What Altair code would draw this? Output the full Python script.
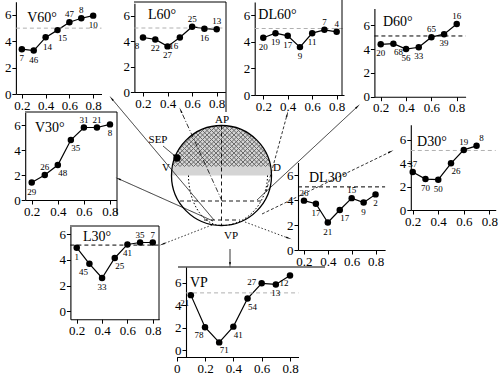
import math
import altair as alt
import pandas as pd

W, H = 500, 378
FONT = "Liberation Serif"

# ---------------- data ----------------
x7 = [0.2, 0.3, 0.4, 0.5, 0.6, 0.7, 0.8]
x_d30 = [0.2, 0.3, 0.4, 0.5, 0.6, 0.7]
x_vp = [0.1, 0.2, 0.3, 0.4, 0.5, 0.6, 0.7, 0.8]

v60_y = [3.4, 3.3, 4.3, 4.85, 5.45, 5.75, 5.95]
v60_n = ["7", "46", "14", "15", "47", "8", "10"]
l60_y = [4.3, 4.15, 3.6, 4.3, 5.15, 5.0, 4.95]
l60_n = ["8", "22", "27", "16", "25", "16", "13"]
dl60_y = [4.3, 4.65, 4.45, 3.6, 4.65, 4.9, 4.75]
dl60_n = ["20", "19", "17", "9", "11", "7", "4"]
d60_y = [4.4, 4.45, 4.0, 4.15, 5.0, 5.25, 6.1]
d60_n = ["20", "68", "56", "33", "65", "39", "16"]
v30_y = [1.4, 2.0, 2.8, 4.8, 5.8, 5.8, 6.05]
v30_n = ["29", "26", "48", "35", "31", "21", "8"]
dl30_y = [3.95, 3.7, 2.2, 3.2, 4.15, 3.8, 4.45]
dl30_n = ["26", "17", "21", "17", "15", "9", "2"]
d30_y = [3.25, 2.65, 2.6, 4.0, 5.15, 5.5]
d30_n = ["37", "70", "50", "26", "19", "8"]
l30_y = [4.95, 3.7, 2.6, 4.15, 5.2, 5.35, 5.35]
l30_n = ["1", "45", "33", "25", "41", "35", "7"]
vp_y = [4.9, 2.05, 0.7, 2.1, 4.6, 5.95, 5.85, 6.65]
vp_n = ["21", "78", "71", "41", "54", "27", "13", "12"]

thresholds = {"V60": 5.0, "L60": 5.05, "DL60": 5.0, "D60": 5.1,
              "DL30": 5.05, "D30": 5.1, "L30": 5.15, "VP": 5.1}

x_ticks = [0.2, 0.4, 0.6, 0.8]
vp_x_ticks = [0, 0.2, 0.4, 0.6, 0.8]
y_ticks = [0, 2, 4, 6]

diagram_labels = ["AP", "SEP", "V", "D", "VP"]

# ---------------- layout (positions / styles) ----------------
panels = [
    dict(name="V60", title="V60°", x=x7, y=v60_y, n=v60_n,
         pos=["b", "b", "bb", "br", "a", "a", "b"], dash="#b0b0b0",
         xd=[0.15, 0.87], xr=[15.9, 101.5], yd=[0, 7], yr=[94, 1.8], tpos=(0.245, 5.77)),
    dict(name="L60", title="L60°", x=x7, y=l60_y, n=l60_n,
         pos=["bl", "b", "b", "bl", "a", "b", "a"], dash="#b0b0b0",
         xd=[0.13, 0.87], xr=[134.4, 225.3], yd=[0, 7], yr=[92, 3.3], tpos=(0.241, 6.08)),
    dict(name="DL60", title="DL60°", x=x7, y=dl60_y, n=dl60_n,
         pos=["b", "b", "b", "b", "b", "a", "a"], dash="#b0b0b0",
         xd=[0.13, 0.86], xr=[254.7, 344.0], yd=[0, 7], yr=[95, 1.9], tpos=(0.16, 6.0)),
    dict(name="D60", title="D60°", x=x7, y=d60_y, n=d60_n,
         pos=["b", "br", "b", "b", "a", "b", "a"], dash="black",
         xd=[0.15, 0.87], xr=[374.4, 465.6], yd=[0, 7.4], yr=[96.7, 8.6], tpos=(0.218, 6.3)),
    dict(name="V30", title="V30°", x=x7, y=v30_y, n=v30_n,
         pos=["b", "a", "br", "br", "a", "a", "b"], dash=None,
         xd=[0.15, 0.85], xr=[25.2, 116.5], yd=[0, 7], yr=[200, 112.5], tpos=(0.225, 5.76)),
    dict(name="DL30", title="DL30°", x=x7, y=dl30_y, n=dl30_n,
         pos=["a", "b", "b", "br", "a", "b", "b"], dash="black",
         xd=[0.15, 0.88], xr=[298.0, 385.1], yd=[0, 7], yr=[250, 162.5], tpos=(0.242, 5.76)),
    dict(name="D30", title="D30°", x=x_d30, y=d30_y, n=d30_n,
         pos=["a", "b", "b", "br", "a", "ar"], dash="#b0b0b0",
         xd=[0.185, 0.85], xr=[410.8, 495.7], yd=[0, 7.3], yr=[210, 124.8], tpos=(0.234, 5.85)),
    dict(name="L30", title="L30°", x=x7, y=l30_y, n=l30_n,
         pos=["b", "bl", "b", "br", "b", "a", "a"], dash="black",
         xd=[0.15, 0.85], xr=[70.4, 159.1], yd=[-0.6, 6.6], yr=[319.2, 226.4], tpos=(0.25, 5.8)),
    dict(name="VP", title="VP", x=x_vp, y=vp_y, n=vp_n,
         pos=["bl", "bl", "br", "br", "br", "l", "b", "bl"], dash="#b0b0b0",
         xd=[0.0, 0.86], xr=[176.7, 298.5], yd=[-0.6, 7.4], yr=[357, 267], tpos=(0.094, 5.97),
         yax=186, xt=vp_x_ticks),
]

OFFS = {"b": (0, 9), "bb": (2, 10), "a": (0, -8), "br": (5, 8), "bl": (-6, 8),
        "l": (-10, -1), "r": (9, 1), "ar": (5, -8)}


def sc(d, r):
    return alt.Scale(domain=d, range=r, nice=False, zero=False)


def axis_common():
    return dict(title=None, grid=False, domainColor="black", domainWidth=1.1,
                tickColor="black", tickSize=4, tickWidth=1, labelColor="black",
                labelFont=FONT, labelFontSize=13, labelPadding=1,
                labelFlush=False, labelOverlap=False)


layers = []

for p in panels:
    xs = sc(p["xd"], p["xr"])
    ys = sc(p["yd"], p["yr"])
    df = pd.DataFrame({"x": p["x"], "y": p["y"], "n": p["n"], "pos": p["pos"]})
    xt = p.get("xt", x_ticks)
    xaxis = alt.Axis(orient="bottom", offset=p["yr"][0] - H, values=xt,
                     labelExpr="datum.value == 0 ? '0' : format(datum.value, '.1f')",
                     **axis_common())
    yaxis = alt.Axis(orient="left", offset=-p.get("yax", p["xr"][0]), values=y_ticks,
                     format="d", **axis_common())
    # line with the panel axes
    layers.append(alt.Chart(df).mark_line(color="black", strokeWidth=1.2).encode(
        x=alt.X("x:Q", scale=xs, axis=xaxis),
        y=alt.Y("y:Q", scale=ys, axis=yaxis)))
    # threshold
    if p["dash"] is not None:
        tdf = pd.DataFrame({"x0": [p["xd"][0] if "yax" not in p else 0.066],
                            "x1": [p["xd"][1]], "t": [thresholds[p["name"]]]})
        layers.append(alt.Chart(tdf).mark_rule(color=p["dash"], strokeDash=[4, 3], strokeWidth=1).encode(
            x=alt.X("x0:Q", scale=xs, axis=None), x2="x1:Q",
            y=alt.Y("t:Q", scale=ys, axis=None)))
    # points
    layers.append(alt.Chart(df).mark_circle(size=42, color="black", opacity=1).encode(
        x=alt.X("x:Q", scale=xs, axis=None), y=alt.Y("y:Q", scale=ys, axis=None)))
    # value labels, one layer per placement
    for code in sorted(set(p["pos"])):
        dx, dy = OFFS[code]
        sub = df[df["pos"] == code]
        layers.append(alt.Chart(sub).mark_text(font=FONT, fontSize=9, color="black",
                                               dx=dx, dy=dy, baseline="middle", align="center").encode(
            x=alt.X("x:Q", scale=xs, axis=None), y=alt.Y("y:Q", scale=ys, axis=None), text="n:N"))
    # title
    tdf = pd.DataFrame({"x": [p["tpos"][0]], "y": [p["tpos"][1]], "t": [p["title"]]})
    layers.append(alt.Chart(tdf).mark_text(font=FONT, fontSize=14, color="black",
                                           align="left", baseline="middle").encode(
        x=alt.X("x:Q", scale=xs, axis=None), y=alt.Y("y:Q", scale=ys, axis=None), text="t:N"))

# ---------------- central diagram (figure pixel space) ----------------
fx = sc([0, W], [0, W])
fy = sc([0, H], [0, H])
FX = lambda f: alt.X(f, scale=fx, axis=None)
FY = lambda f: alt.Y(f, scale=fy, axis=None)

cx, cy, r = 221.5, 175.5, 50.0

# upper half disc fill
layers.append(alt.Chart(pd.DataFrame({"x": [cx], "y": [cy]})).mark_arc(
    radius=r, theta=3 * math.pi / 2, theta2=5 * math.pi / 2, fill="#d4d4d4").encode(
    x=FX("x:Q"), y=FY("y:Q")))

# cross hatch in the cap
segs = []
vmax = -9.0
k = -2 * r
while k <= 2 * r:
    disc = 2 * r * r - k * k
    if disc > 0:
        s = math.sqrt(disc)
        t1, t2 = (k - s) / 2, (k + s) / 2
        hi = min(t2, k + vmax)
        if hi > t1:
            segs.append((cx + t1, cy + t1 - k, cx + hi, cy + hi - k))
        lo = max(t1, k - vmax)
        if t2 > lo:
            segs.append((cx + lo, cy + k - lo, cx + t2, cy + k - t2))
    k += 4.5
hdf = pd.DataFrame(segs, columns=["x", "y", "x2", "y2"])
layers.append(alt.Chart(hdf).mark_rule(color="#6a6a6a", strokeWidth=1).encode(
    x=FX("x:Q"), y=FY("y:Q"), x2="x2:Q", y2="y2:Q"))

# circle outline
layers.append(alt.Chart(pd.DataFrame({"x": [cx], "y": [cy]})).mark_point(
    shape="circle", size=(2 * r) ** 2, filled=False, color="black", strokeWidth=1.3, opacity=1).encode(
    x=FX("x:Q"), y=FY("y:Q")))

# dashed construction lines
dl = pd.DataFrame({"x": [cx, 180, 204], "y": [cy - r, 201, 220],
                   "x2": [cx, 265, 240], "y2": [cy + r, 201, 220]})
layers.append(alt.Chart(dl).mark_rule(color="black", strokeDash=[4, 3], strokeWidth=0.9).encode(
    x=FX("x:Q"), y=FY("y:Q"), x2="x2:Q", y2="y2:Q"))

# dotted meridians
mer = []
for g, a, sgn in [("L", 33.0, -1), ("R", 46.0, 1)]:
    for i in range(31):
        t = (math.pi / 2) * i / 30
        mer.append({"g": g, "i": i, "x": cx + sgn * a * math.cos(t), "y": cy + r * math.sin(t)})
layers.append(alt.Chart(pd.DataFrame(mer)).mark_line(color="black", strokeDash=[1.5, 2], strokeWidth=1).encode(
    x=FX("x:Q"), y=FY("y:Q"), detail="g:N", order="i:Q"))

# arrows
arrows = [
    (214, 220, 112, 99, "solid"),   # V60
    (222, 201, 181, 111, "dashdot"),  # L60
    (266, 192, 287, 115, "dash"),   # DL60
    (257, 200, 357, 107, "solid"),  # D60
    (213, 221, 119, 179, "solid"),  # V30
    (262, 214, 390, 152, "dash"),   # D30
    (245, 222, 288, 238, "dot"),    # DL30
    (212, 225, 163, 244, "dot"),    # L30
    (230, 249, 230, 264, "solid"),  # VP
    (163, 146, 175, 156, "solid"),  # SEP
]
dashes = {"solid": [1, 0], "dashdot": [5, 2, 1, 2], "dash": [3, 2], "dot": [1.5, 2]}
adf = pd.DataFrame(arrows, columns=["x", "y", "x2", "y2", "st"])
for st, dsh in dashes.items():
    sub = adf[adf["st"] == st]
    layers.append(alt.Chart(sub).mark_rule(color="black", strokeWidth=0.8, strokeDash=dsh).encode(
        x=FX("x:Q"), y=FY("y:Q"), x2="x2:Q", y2="y2:Q"))
heads = adf.copy()
heads["ang"] = [(math.degrees(math.atan2(x2 - x1, -(y2 - y1))) + 360) % 360
                for x1, y1, x2, y2 in zip(adf.x, adf.y, adf.x2, adf.y2)]
layers.append(alt.Chart(heads).mark_point(shape="wedge", size=45, filled=True, color="black", opacity=1).encode(
    x=FX("x2:Q"), y=FY("y2:Q"), angle=alt.Angle("ang:Q", scale=None)))

# SEP dot
layers.append(alt.Chart(pd.DataFrame({"x": [177], "y": [158]})).mark_circle(size=55, color="black", opacity=1).encode(
    x=FX("x:Q"), y=FY("y:Q")))

# diagram labels
lab = pd.DataFrame({"t": diagram_labels, "x": [222, 158, 166, 277, 231], "y": [120, 140, 168, 168, 236]})
layers.append(alt.Chart(lab).mark_text(font=FONT, fontSize=11, color="black", baseline="middle", align="center").encode(
    x=FX("x:Q"), y=FY("y:Q"), text="t:N"))

# panel frames (partial boxes as in the reference)
frames = pd.DataFrame([
    (134, 2, 226, 2), (226, 2, 226, 112),      # L60
    (342, 0, 342, 95),                          # DL60
    (25, 112, 117, 112), (117, 112, 117, 214),  # V30
    (70, 226, 159, 226), (159, 226, 159, 320),  # L30
    (178, 267, 325, 267),                       # VP
], columns=["x", "y", "x2", "y2"])
layers.append(alt.Chart(frames).mark_rule(color="black", strokeWidth=1).encode(
    x=FX("x:Q"), y=FY("y:Q"), x2="x2:Q", y2="y2:Q"))

chart = alt.layer(*layers).resolve_scale(x="independent", y="independent").properties(
    width=W, height=H, autosize="none", padding=0, background="white"
).configure_view(stroke=None).configure_axis(labelFont=FONT).configure_text(font=FONT)

chart.save("out.html", embed_options={"renderer": "svg", "actions": False})
